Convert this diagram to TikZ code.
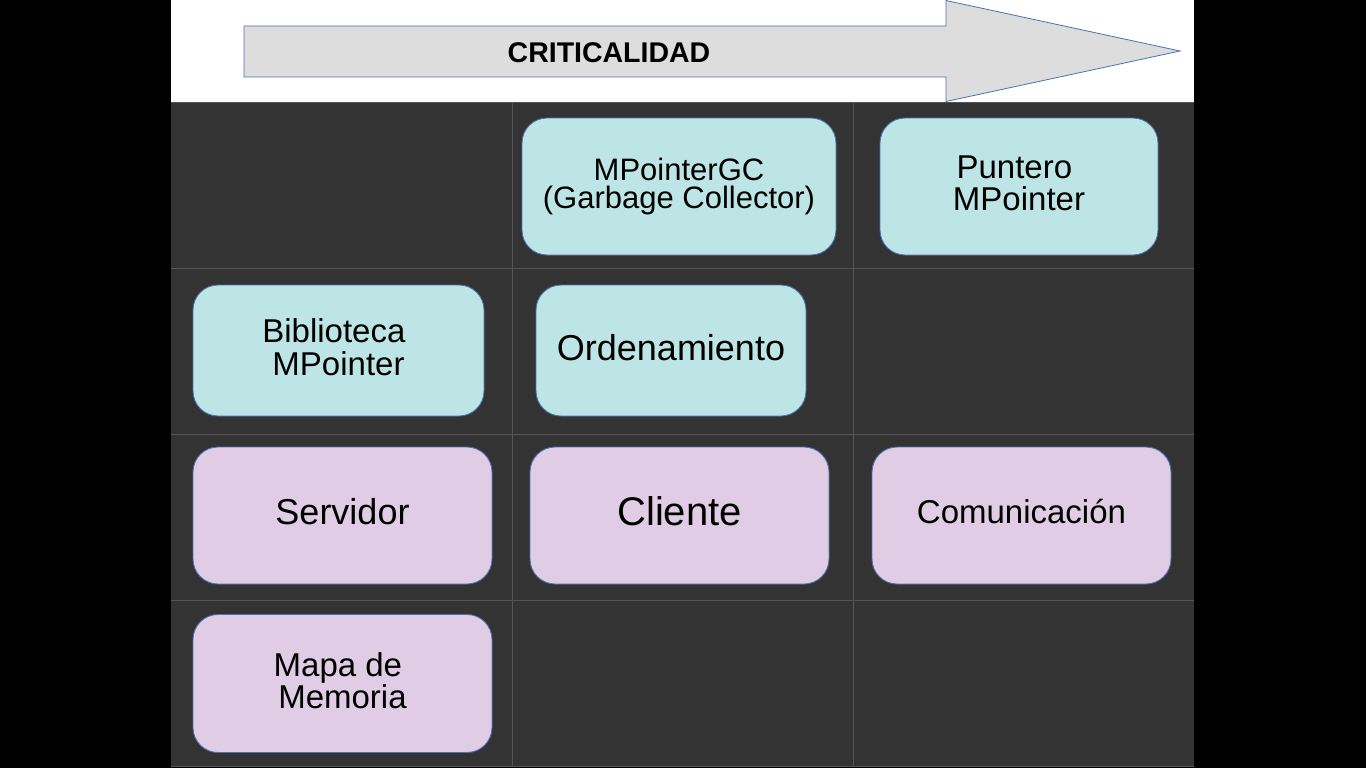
\documentclass[tikz,border=0pt]{standalone}
\usepackage{fontspec}
\setmainfont{Liberation Sans}
\definecolor{gridbg}{HTML}{333333}
\definecolor{gridline}{HTML}{555555}
\definecolor{cyanfill}{HTML}{BDE5E5}
\definecolor{lilacfill}{HTML}{E0CCE4}
\definecolor{edgeblue}{HTML}{4A72B0}
\definecolor{arrowfill}{HTML}{DDDDDD}
\tikzset{
  card/.style={draw=edgeblue, line width=0.9pt, rounded corners=25pt, align=center, text=black, inner sep=0pt},
  cyancard/.style={card, fill=cyanfill},
  lilaccard/.style={card, fill=lilacfill},
  gridrule/.style={draw=gridline, line width=0.8pt},
}
\begin{document}
\begin{tikzpicture}[x=1pt,y=-1pt]
\useasboundingbox (0,0) rectangle (1366,768);
\fill[black] (0,0) rectangle (1366,768);
\fill[white] (171,0) rectangle (1194,102);
\fill[gridbg] (171,102) rectangle (1194,766);
% grid
\foreach \x in {512,853} \draw[gridrule] (\x,102) -- (\x,766);
\foreach \y in {268,434,600} \draw[gridrule] (171,\y) -- (1194,\y);
\draw[gridrule] (171,766) -- (1194,766);
\draw[gridrule] (171,102) -- (1194,102);
% arrow
\draw[draw=edgeblue, fill=arrowfill, line width=0.8pt]
  (244,26) -- (946,26) -- (946,0.5) -- (1180,51) -- (946,101.5) -- (946,77) -- (244,77) -- cycle;
\node[font=\fontsize{28.5}{30}\selectfont\bfseries] (crit) at (609,52.5) {CRITICALIDAD};
% cards
\node[cyancard, minimum width=314pt, minimum height=137pt, font=\fontsize{31}{28}\selectfont] (gc) at (679,186.5)
  {MPointerGC\\(Garbage Collector)};
\node[cyancard, minimum width=278pt, minimum height=137pt, font=\fontsize{33}{32}\selectfont, text depth=7pt] (ptr) at (1019,186.5)
  {Puntero\hspace*{.28em}\\MPointer};
\node[cyancard, minimum width=291pt, minimum height=131pt, font=\fontsize{33}{33}\selectfont, text depth=6pt] (bib) at (338.5,350.5)
  {Biblioteca\hspace*{.28em}\\MPointer};
\node[cyancard, minimum width=270pt, minimum height=131pt, font=\fontsize{36}{36}\selectfont, text depth=6pt] (ord) at (671,350.5)
  {Ordenamiento};
\node[lilaccard, minimum width=299pt, minimum height=137pt, font=\fontsize{36}{36}\selectfont, text depth=9pt] (srv) at (342.5,515.5)
  {Servidor};
\node[lilaccard, minimum width=299pt, minimum height=137pt, font=\fontsize{40}{40}\selectfont, text depth=9pt] (cli) at (679.5,515.5)
  {Cliente};
\node[lilaccard, minimum width=299pt, minimum height=137pt, font=\fontsize{33}{33}\selectfont, text depth=9pt] (com) at (1021.5,515.5)
  {Comunicación};
\node[lilaccard, minimum width=299pt, minimum height=138pt, font=\fontsize{33}{30}\selectfont, text depth=6pt] (mapa) at (342.5,683.5)
  {Mapa de\hspace*{.28em}\\Memoria};
\end{tikzpicture}
\end{document}
